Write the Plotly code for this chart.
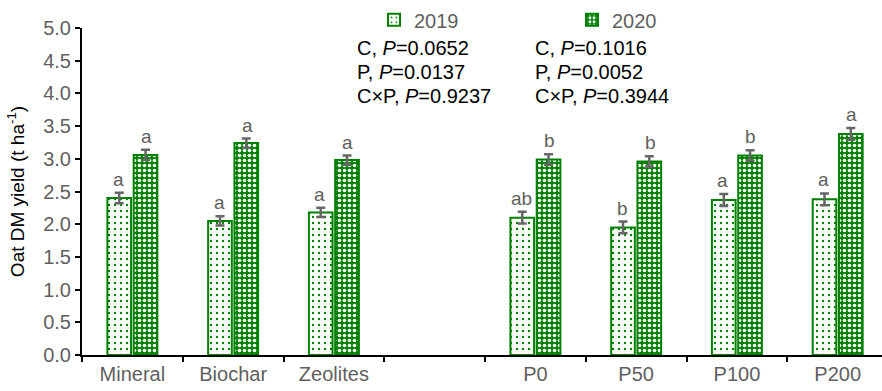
import plotly.graph_objects as go

# Treatment groups; the blank slot separates the C and P factor groups
categories = ["Mineral", "Biochar", "Zeolites", " ", "P0", "P50", "P100", "P200"]

yield_2019 = [2.40, 2.05, 2.18, None, 2.10, 1.95, 2.37, 2.38]
yield_2020 = [3.06, 3.24, 2.98, None, 2.99, 2.96, 3.05, 3.38]
err_2019 = [0.08, 0.07, 0.07, None, 0.09, 0.09, 0.09, 0.09]
err_2020 = [0.08, 0.07, 0.07, None, 0.08, 0.08, 0.08, 0.09]
letters_2019 = ["a", "a", "a", "", "ab", "b", "a", "a"]
letters_2020 = ["a", "a", "a", "", "b", "b", "b", "a"]

stats_2019 = ["C, <i>P</i>=0.0652", "P, <i>P</i>=0.0137", "C×P, <i>P</i>=0.9237"]
stats_2020 = ["C, <i>P</i>=0.1016", "P, <i>P</i>=0.0052", "C×P, <i>P</i>=0.3944"]

GREEN = "#008000"
GREY = "#5f5f5f"
FONT = "Liberation Sans, Arial, sans-serif"

fig = go.Figure()

fig.add_trace(go.Bar(
    name="2019", x=categories, y=yield_2019,
    marker=dict(color="white", line=dict(color=GREEN, width=2),
                pattern=dict(shape=".", fillmode="replace", bgcolor="white",
                             fgcolor=GREEN, size=6, solidity=0.12)),
    error_y=dict(type="data", array=err_2019, color="#666666", thickness=2.5, width=4.5),
))
fig.add_trace(go.Bar(
    name="2020", x=categories, y=yield_2020,
    marker=dict(color=GREEN, line=dict(color=GREEN, width=2),
                pattern=dict(shape=".", fillmode="replace", bgcolor=GREEN,
                             fgcolor="white", size=5, solidity=0.4)),
    error_y=dict(type="data", array=err_2020, color="#666666", thickness=2.5, width=4.5),
))

# Significance letters above each error bar
for cat, v, e, lab in zip(categories, yield_2019, err_2019, letters_2019):
    if v is not None and lab:
        fig.add_annotation(x=cat, y=v + e, text=lab, showarrow=False, xshift=-14,
                           yanchor="bottom", yshift=1, font=dict(size=19, color=GREY, family=FONT))
for cat, v, e, lab in zip(categories, yield_2020, err_2020, letters_2020):
    if v is not None and lab:
        fig.add_annotation(x=cat, y=v + e, text=lab, showarrow=False, xshift=14,
                           yanchor="bottom", yshift=1, font=dict(size=19, color=GREY, family=FONT))

# ANOVA results under each legend entry
for i, (s1, s2) in enumerate(zip(stats_2019, stats_2020)):
    ypix = 40 + 25 * i
    fig.add_annotation(xref="paper", yref="paper", x=(355 - 82) / 800, y=1 - (ypix - 20) / 335,
                       text=s1, showarrow=False, xanchor="left", yanchor="middle",
                       font=dict(size=20, color="black", family=FONT))
    fig.add_annotation(xref="paper", yref="paper", x=(533 - 82) / 800, y=1 - (ypix - 20) / 335,
                       text=s2, showarrow=False, xanchor="left", yanchor="middle",
                       font=dict(size=20, color="black", family=FONT))

fig.update_layout(
    width=882, height=391,
    margin=dict(l=82, r=0, t=20, b=36),
    plot_bgcolor="white", paper_bgcolor="white",
    barmode="group", bargap=0.478, bargroupgap=0.1,
    font=dict(family=FONT, size=20, color=GREY),
    legend=dict(orientation="h", x=(374 - 82) / 800, y=1.025, xanchor="left", yanchor="middle",
                entrywidth=153, entrywidthmode="pixels", itemwidth=30,
                font=dict(size=20, color=GREY, family=FONT), bgcolor="rgba(0,0,0,0)"),
    showlegend=True,
)
fig.update_xaxes(
    type="category", categoryorder="array", categoryarray=categories,
    range=[-0.5, 7.44], showline=True, linecolor="black", linewidth=2,
    ticks="outside", tickson="boundaries", ticklen=5, tickwidth=2, tickcolor="black",
    tickfont=dict(size=20, color=GREY, family=FONT), showgrid=False, zeroline=False,
)
fig.update_yaxes(
    range=[0, 5], dtick=0.5, tickformat=".1f", showline=True, linecolor="black", linewidth=2,
    ticks="outside", ticklen=5, tickwidth=2, tickcolor="black",
    tickfont=dict(size=20, color=GREY, family=FONT), showgrid=False, zeroline=False,
    title=dict(text="Oat DM yield (t ha<sup>-1</sup>)", standoff=14,
               font=dict(size=19, color="black", family=FONT)),
)

fig.write_html("out.html")
